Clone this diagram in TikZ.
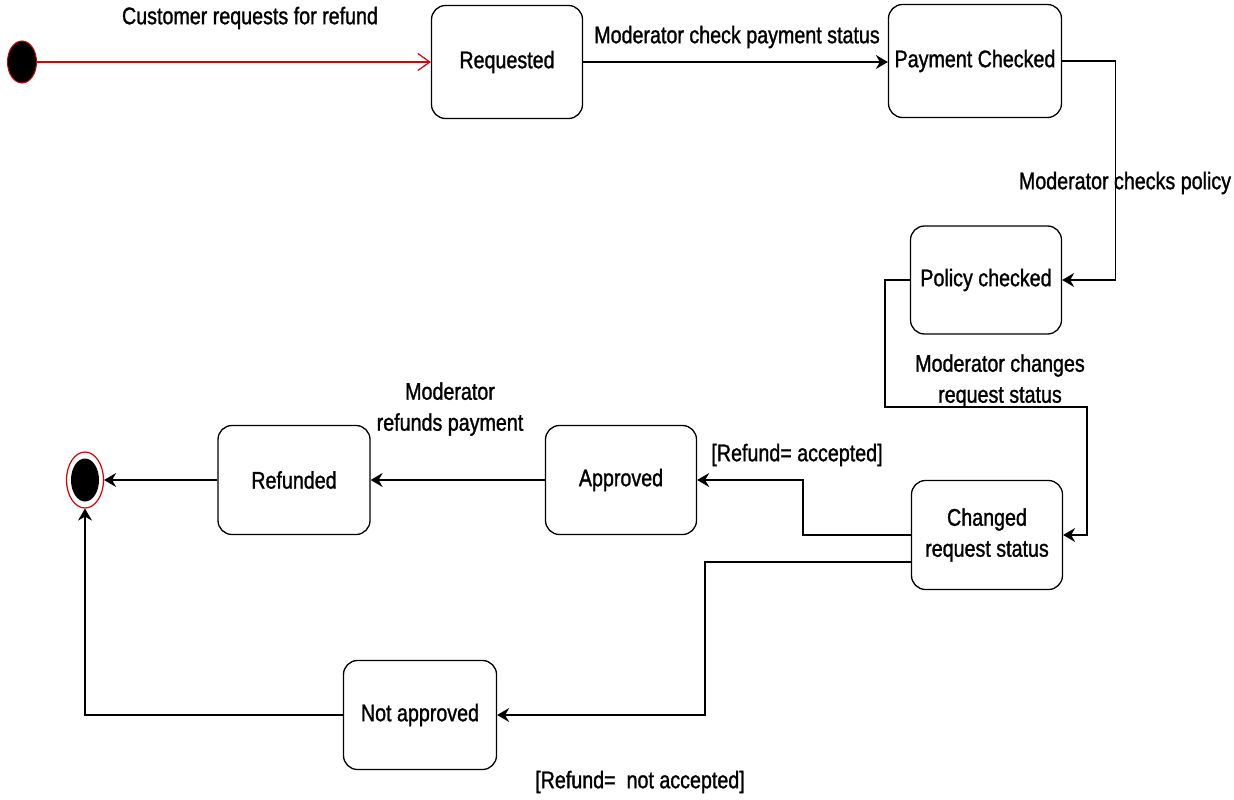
\documentclass[tikz,border=0pt]{standalone}
\usepackage{fontspec}
\setmainfont{Liberation Sans}[FakeStretch=0.82,FakeBold=1.2]
\usetikzlibrary{shapes.geometric,arrows.meta,calc}
\begin{document}
\begin{tikzpicture}[x=1pt,y=-1pt,
  font=\fontsize{24}{31}\selectfont,
  state/.style={draw, line width=1.3pt, rounded corners=14pt, fill=white, align=center, inner sep=0pt},
  conn/.style={line width=1.3pt, -{Stealth[length=12pt,width=14pt,inset=4pt]}},
  lbl/.style={align=center, inner sep=0pt}]
\useasboundingbox (0,0) rectangle (1234,800);
\fill[white] (0,0) rectangle (1234,800);
% nodes
\node[ellipse, fill=black, draw=red!80!black, line width=1pt, minimum width=29pt, minimum height=42pt, inner sep=0pt] (init) at (22,62) {};
\node[state, minimum width=151pt, minimum height=113pt] (req) at (507,62) {Requested};
\node[state, minimum width=173pt, minimum height=113pt] (pay) at (975,61) {Payment Checked};
\node[state, minimum width=151pt, minimum height=108pt] (pol) at (986,280) {Policy checked};
\node[state, minimum width=151pt, minimum height=109pt] (chg) at (987,535) {Changed\\request status};
\node[state, minimum width=151pt, minimum height=109pt] (app) at (621,480) {Approved};
\node[state, minimum width=152pt, minimum height=109pt] (ref) at (294,480) {Refunded};
\node[state, minimum width=153pt, minimum height=109pt] (na) at (420,715) {Not approved};
\node[ellipse, draw=red!85!black, line width=1.2pt, fill=white, minimum width=37pt, minimum height=56pt, inner sep=0pt] (fin) at (85,480) {};
\node[ellipse, fill=black, minimum width=28pt, minimum height=43pt, inner sep=0pt] (finin) at (85,480) {};
% connectors
\draw[line width=1.2pt, red!85!black, -{Straight Barb[length=12pt,width=17pt]}] (init.east) -- (req.west);
\draw[conn] (req.east) -- (req.east -| pay.west);
\draw[conn] (pay.east) -- ++(53,0) |- (pol.east);
\draw[conn] (pol.west) -- ++(-25,0) -- ++(0,127) -- ++(202,0) |- (chg.east);
\draw[conn] (chg.west) -- ++(-108,0) |- (app.east);
\draw[conn] ($(chg.west)+(0,27)$) -- ++(-206,0) |- (na.east);
\draw[conn] (app.west) -- (ref.east);
\draw[conn] (ref.west) -- (fin.east);
\draw[conn] (na.west) -| (fin.south);
% labels
\node[lbl] (l1) at (250,18) {Customer requests for refund};
\node[lbl] (l2) at (737,37) {Moderator check payment status};
\node[lbl] (l3) at (1125,183) {Moderator checks policy};
\node[lbl] (l4) at (1000,381) {Moderator changes\\request status};
\node[lbl] (l5) at (797,455) {[Refund= accepted]};
\node[lbl] (l6) at (450,409) {Moderator\\refunds payment};
\node[lbl] (l7) at (640,782) {[Refund=\ \ not accepted]};
\end{tikzpicture}
\end{document}
